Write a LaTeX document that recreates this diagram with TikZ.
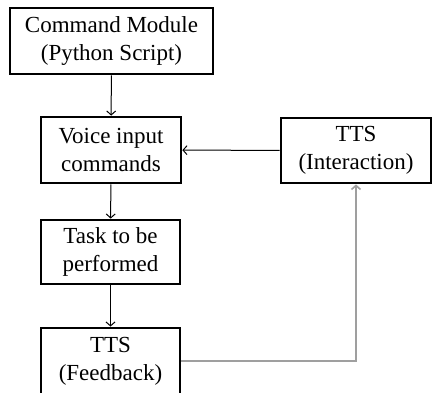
\documentclass[tikz,border=0pt]{standalone}
\usepackage{fontspec}
\setmainfont{Liberation Serif}
\usetikzlibrary{arrows.meta}
\tikzset{
  block/.style={draw, line width=2.8pt, align=center, inner sep=0pt,
    font=\fontsize{23}{28}\selectfont},
  flow/.style={line width=1pt, -{Straight Barb[length=4pt,width=9pt]}},
  back/.style={flow, draw=gray!75, line width=1.6pt}
}
\begin{document}
\begin{tikzpicture}[x=1pt, y=-1pt]
\clip (0,0) rectangle (432,392);
\node[block, minimum width=203pt, minimum height=66pt] (cmd) at (111.5,41) {Command Module\\(Python Script)};
\node[block, minimum width=140pt, minimum height=66pt] (voice) at (111,150) {Voice input\\commands};
\node[block, minimum width=139pt, minimum height=64pt] (task) at (110.5,252) {Task to be\\performed};
\node[block, minimum width=139pt, minimum height=66pt] (ttsfb) at (110.5,361) {TTS\\(Feedback)};
\node[block, minimum width=150pt, minimum height=65pt] (ttsint) at (356,150.5) {TTS\\(Interaction)};
\draw[flow] (cmd) -- (voice);
\draw[flow] (voice) -- (task);
\draw[flow] (task) -- (ttsfb);
\draw[flow] (ttsint) -- (voice);
\draw[back] (ttsfb.east) -| (ttsint.south);
\end{tikzpicture}
\end{document}
